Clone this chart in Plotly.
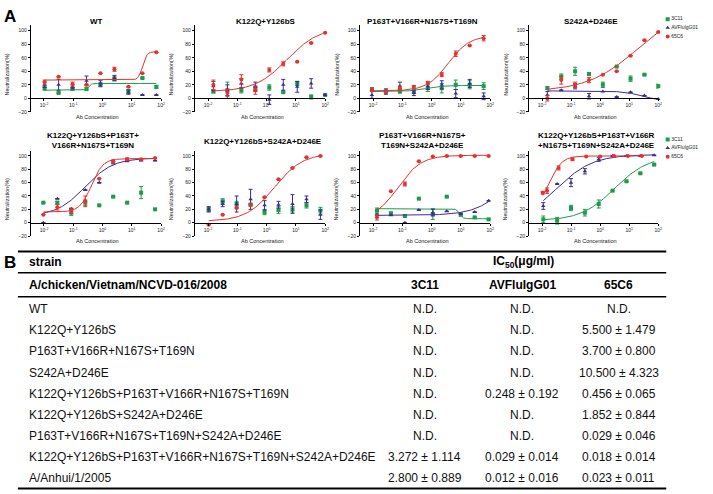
import numpy as np
import plotly.graph_objects as go

W, H = 713, 494
def px(x): return x / W
def py(y): return 1 - y / H

antibodies = ["3C11", "AVFluIgG01", "65C6"]
colors = {"3C11": "#1f9a4b", "AVFluIgG01": "#3a2e8e", "65C6": "#e4332f"}
symbols = {"3C11": "square", "AVFluIgG01": "triangle-up", "65C6": "circle"}

titles = ["WT", "K122Q+Y126bS", "P163T+V166R+N167S+T169N", "S242A+D246E",
          "K122Q+Y126bS+P163T+<br>V166R+N167S+T169N", "K122Q+Y126bS+S242A+D246E",
          "P163T+V166R+N167S+<br>T169N+S242A+D246E",
          "K122Q+Y126bS+P163T+V166R<br>+N167S+T169N+S242A+D246E"]

# concentrations (ug/ml) per panel
conc_p1 = [0.0105, 0.0315, 0.0945, 0.2835, 0.85, 2.55, 7.65, 23.0, 68.9]
conc_p2 = [0.0152, 0.0457, 0.137, 0.412, 1.235, 3.70, 11.1, 33.3, 100.0]
conc_p3 = [0.0091, 0.0273, 0.0819, 0.246, 0.737, 2.21, 6.63, 19.9, 59.7]
conc_p4 = [0.0152, 0.0457, 0.137, 0.412, 1.235, 3.70, 11.1, 33.3, 100.0]
conc_p5 = [0.0095, 0.0285, 0.0855, 0.257, 0.770, 2.31, 6.93, 20.8, 62.3]
conc_p6 = [0.0105, 0.0315, 0.0945, 0.2835, 0.85, 2.55, 7.65, 23.0, 68.9]
conc_p7 = [0.0135, 0.0405, 0.1215, 0.3645, 1.094, 3.28, 9.84, 29.5, 88.6]
conc_p8 = [0.011, 0.033, 0.099, 0.297, 0.891, 2.67, 8.02, 24.1, 72.2]
conc_p8_65c6 = [0.0105, 0.0148, 0.037, 0.111, 0.33, 1.0, 3.0, 9.0, 27.0]

# neutralization (%) and error
p1_3c11 = [15, 8, 14, 14, 20, 29, 10, 30, 17];      p1_3c11_err = [3, 0, 2, 2, 3, 3, 3, 0, 2]
p1_avf = [20, 20, 17, 26, 22, 30, 9, 5, 5];         p1_avf_err = [4, 8, 3, 7, 4, 4, 3, 0, 0]
p1_65c6 = [24, 32, 21, 20, 37, 43, 17, 37, 68];     p1_65c6_err = [3, 0, 3, 0, 0, 3, 0, 0, 0]

p2_3c11 = [10, 12, 12, 15, 16, 9, 22, 2, 5];        p2_3c11_err = [2, 12, 4, 3, 4, 0, 3, 3, 0]
p2_avf = [18, 12, 22, 17, -2, 20, 17, 22, 5];       p2_avf_err = [7, 8, 7, 7, 7, 8, 8, 7, 0]
p2_65c6 = [20, 8, 28, 12, 42, 51, 54, 82, 97];      p2_65c6_err = [7, 5, 7, 6, 3, 3, 0, 0, 0]

p3_3c11 = [13, 10, 10, 10, 15, 15, 20, 20, 18];     p3_3c11_err = [3, 2, 2, 2, 5, 7, 7, 6, 5]
p3_avf = [5, 10, 18, 8, 18, 20, 7, 22, 3];          p3_avf_err = [5, 4, 6, 4, 5, 6, 6, 6, 5]
p3_65c6 = [12, 10, 15, 17, 23, 35, 66, 78, 89];     p3_65c6_err = [2, 2, 3, 2, 2, 3, 4, 0, 4]

p4_3c11 = [15, 32, 40, 36, 20, 47, 29, 35, 18];     p4_3c11_err = [2, 4, 6, 2, 4, 0, 4, 0, 3]
p4_avf = [5, 12, 18, 3, 10, 2, 9, 4, -1];           p4_avf_err = [5, 0, 4, 4, 0, 0, 0, 0, 0]
p4_65c6 = [0, 27, 20, 27, 35, 40, 63, 86, 98];      p4_65c6_err = [4, 6, 4, 4, 0, 0, 0, 0, 0]

p5_3c11 = [30, 30, 15, 30, 26, 39, 30, 45, 20];     p5_3c11_err = [0, 2, 4, 4, 0, 0, 0, 9, 0]
p5_avf = [0, 36, 21, 49, 60, 90, 92, 93, 93];       p5_avf_err = [0, 0, 0, 0, 0, 2, 0, 0, 0]
p5_65c6 = [12, 23, 18, 32, 66, 92, 95, 95, 97];     p5_65c6_err = [0, 4, 4, 8, 0, 2, 2, 0, 0]

p6_3c11 = [20, 32, 28, 27, 16, 19, 20, 26, 18];     p6_3c11_err = [3, 4, 4, 2, 4, 5, 4, 4, 5]
p6_avf = [20, 28, 28, 35, 26, 27, 28, 35, 12];      p6_avf_err = [4, 4, 12, 15, 7, 5, 14, 5, 7]
p6_65c6 = [-3, 12, 22, 27, 38, 65, 82, 98, 100];    p6_65c6_err = [0, 0, 0, 0, 0, 0, 0, 0, 0]

p7_3c11 = [18, 14, 10, 36, 13, 39, 12, 8, 5];       p7_3c11_err = [4, 2, 0, 0, 8, 0, 2, 0, 0]
p7_avf = [12, 11, 0, 19, 15, 17, 13, 16, 33];       p7_avf_err = [0, 0, 0, 0, 5, 0, 0, 0, 0]
p7_65c6 = [8, 47, 58, 92, 99, 100, 100, 100, 100];  p7_65c6_err = [4, 0, 3, 0, 0, 0, 0, 0, 0]

p8_3c11 = [5, 3, 22, 15, 28, 48, 62, 74, 87];       p8_3c11_err = [5, 5, 4, 5, 6, 0, 0, 0, 0]
p8_avf = [25, 58, 60, 77, 95, 100, 100, 100, 101];  p8_avf_err = [5, 0, 6, 4, 3, 0, 0, 0, 0]
p8_65c6 = [45, 48, 82, 95, 99, 99, 100, 100, 100];  p8_65c6_err = [2, 4, 3, 2, 0, 0, 0, 0, 0]

# fitted 4-parameter logistic curves: (value at low conc, value at high conc, logEC50, hill)
fit_p1 = {"3C11": (12, 22, -0.47, 10), "65C6": (27, 69, 1.37, 6)}
fit_p2 = {"65C6": (10, 105, 0.7, 0.8)}
fit_p3 = {"3C11": (10, 19, -0.2, 1.5), "65C6": (11, 93, 0.57, 1.2)}
fit_p4 = {"AVFluIgG01": (11, -5, 1.5, 1.2), "65C6": (10, 137, 1.3, 0.5)}
fit_p5 = {"AVFluIgG01": (10, 97, -0.6, 0.9), "65C6": (16, 96, -0.38, 2.2)}
fit_p6 = {"65C6": (2, 104, 0.27, 0.9)}
fit_p7 = {"3C11": (21, 6, 0.95, 8), "AVFluIgG01": (11, 100, 2.6, 0.8), "65C6": (5, 101, -1.15, 1.1)}
fit_p8 = {"3C11": (3, 100, 0.5, 0.75), "AVFluIgG01": (0, 102, -1.5, 0.7), "65C6": (20, 100, -1.75, 2.0)}

panels = [
    (conc_p1, [(p1_3c11, p1_3c11_err), (p1_avf, p1_avf_err), (p1_65c6, p1_65c6_err)], fit_p1, None),
    (conc_p2, [(p2_3c11, p2_3c11_err), (p2_avf, p2_avf_err), (p2_65c6, p2_65c6_err)], fit_p2, None),
    (conc_p3, [(p3_3c11, p3_3c11_err), (p3_avf, p3_avf_err), (p3_65c6, p3_65c6_err)], fit_p3, None),
    (conc_p4, [(p4_3c11, p4_3c11_err), (p4_avf, p4_avf_err), (p4_65c6, p4_65c6_err)], fit_p4, None),
    (conc_p5, [(p5_3c11, p5_3c11_err), (p5_avf, p5_avf_err), (p5_65c6, p5_65c6_err)], fit_p5, None),
    (conc_p6, [(p6_3c11, p6_3c11_err), (p6_avf, p6_avf_err), (p6_65c6, p6_65c6_err)], fit_p6, None),
    (conc_p7, [(p7_3c11, p7_3c11_err), (p7_avf, p7_avf_err), (p7_65c6, p7_65c6_err)], fit_p7, None),
    (conc_p8, [(p8_3c11, p8_3c11_err), (p8_avf, p8_avf_err), (p8_65c6, p8_65c6_err)], fit_p8, conc_p8_65c6),
]

x_tickvals = [0.01, 0.1, 1, 10, 100]
x_ticktext = ["10<sup>-2</sup>", "10<sup>-1</sup>", "10<sup>0</sup>", "10<sup>1</sup>", "10<sup>2</sup>"]
y_ticks = [-20, 0, 20, 40, 60, 80, 100]
Y_RANGE = [-20, 108]
X_RANGE = [-2.45, 2.0]

# table
strains = ["WT", "K122Q+Y126bS", "P163T+V166R+N167S+T169N", "S242A+D246E",
           "K122Q+Y126bS+P163T+V166R+N167S+T169N", "K122Q+Y126bS+S242A+D246E",
           "P163T+V166R+N167S+T169N+S242A+D246E",
           "K122Q+Y126bS+P163T+V166R+N167S+T169N+S242A+D246E", "A/Anhui/1/2005"]
ic50_3c11 = ["N.D.", "N.D.", "N.D.", "N.D.", "N.D.", "N.D.", "N.D.", "3.272 ± 1.114", "2.800 ± 0.889"]
ic50_avf = ["N.D.", "N.D.", "N.D.", "N.D.", "0.248 ± 0.192", "N.D.", "N.D.", "0.029 ± 0.014", "0.012 ± 0.016"]
ic50_65c6 = ["N.D.", "5.500 ± 1.479", "3.700 ± 0.800", "10.500 ± 4.323", "0.456 ± 0.065", "1.852 ± 0.844",
             "0.029 ± 0.046", "0.018 ± 0.014", "0.023 ± 0.011"]

# ---------------- layout geometry (pixels) ----------------
col_x = [(31, 162), (196, 327), (362, 493), (532, 662)]
row_y = [(25.5, 112.5), (151.5, 237.5)]

fig = go.Figure()
layout = dict(width=W, height=H, margin=dict(l=0, r=0, t=0, b=0),
              paper_bgcolor="white", plot_bgcolor="white", showlegend=False,
              font=dict(family="Liberation Sans, Arial, sans-serif", color="black"))
annotations = []
shapes = []

def logistic(lx, b, t, c, h):
    return b + (t - b) / (1 + 10 ** (h * (c - lx)))

for i, (conc, series, fits, alt_conc) in enumerate(panels):
    r, cidx = divmod(i, 4)
    x0p, x1p = col_x[cidx]
    ytop, ybot = row_y[r]
    ax = "" if i == 0 else str(i + 1)
    xa, ya = "x" + ax, "y" + ax
    y0pix = ybot - (0 - Y_RANGE[0]) / (Y_RANGE[1] - Y_RANGE[0]) * (ybot - ytop)
    layout["xaxis" + ax] = dict(type="log", range=X_RANGE, domain=[px(x0p), px(x1p)],
                                anchor="free", position=py(y0pix),
                                showline=True, linecolor="black", linewidth=1,
                                ticks="outside", ticklen=2, tickwidth=1, tickcolor="black",
                                tickvals=x_tickvals, ticktext=x_ticktext, showgrid=False,
                                zeroline=False, tickfont=dict(size=5, color="#222"))
    layout["yaxis" + ax] = dict(range=Y_RANGE, domain=[py(ybot), py(ytop)], anchor=xa,
                                showline=True, linecolor="black", linewidth=1,
                                ticks="outside", ticklen=2, tickwidth=1, tickcolor="black",
                                tickvals=y_ticks, showgrid=False, zeroline=False,
                                tickfont=dict(size=5, color="#222"))
    for ab, (vals, errs) in zip(antibodies, series):
        xs = alt_conc if (ab == "65C6" and alt_conc is not None) else conc
        fig.add_trace(go.Scatter(x=xs, y=vals, mode="markers", xaxis=xa, yaxis=ya,
                                 marker=dict(symbol=symbols[ab], size=4, color=colors[ab]),
                                 error_y=dict(type="data", array=errs, thickness=1, width=2,
                                              color=colors[ab]),
                                 cliponaxis=False, hoverinfo="skip"))
        if ab in fits:
            b, t, c, h = fits[ab]
            lx = np.linspace(np.log10(min(xs)), np.log10(max(xs)), 200)
            fig.add_trace(go.Scatter(x=10 ** lx, y=logistic(lx, b, t, c, h), mode="lines",
                                     xaxis=xa, yaxis=ya, line=dict(color=colors[ab], width=1),
                                     hoverinfo="skip", cliponaxis=False))
    annotations.append(dict(text="Ab Concentration", x=px((x0p + x1p) / 2 + 2), y=py(ybot + 5),
                            xref="paper", yref="paper", showarrow=False,
                            font=dict(size=5.5, color="#222"), xanchor="center", yanchor="middle"))
    annotations.append(dict(text="Neutralization(%)", x=px(x0p - 24), y=py((ytop + ybot) / 2 + 6),
                            xref="paper", yref="paper", showarrow=False, textangle=-90,
                            font=dict(size=5.5, color="#222"), xanchor="center", yanchor="middle"))

# panel titles
title_pos = [(97, 22), (267, 22), (425, 22), (594, 22), (94, 141.5), (264, 142), (425, 141.5), (600, 141.5)]
for t, (tx, ty) in zip(titles, title_pos):
    annotations.append(dict(text="<b>" + t + "</b>", x=px(tx), y=py(ty), xref="paper", yref="paper",
                            showarrow=False, font=dict(size=8, color="black"),
                            xanchor="center", yanchor="middle"))

# legends (two small legend axes)
for k, (ltop, lbot) in enumerate([(15, 41), (136, 162)]):
    ax = str(9 + k)
    layout["xaxis" + ax] = dict(domain=[px(670), px(710)], range=[-0.3, 8], visible=False,
                                anchor="y" + ax, fixedrange=True)
    layout["yaxis" + ax] = dict(domain=[py(lbot), py(ltop)], range=[2.5, -0.5], visible=False,
                                anchor="x" + ax, fixedrange=True)
    fig.add_trace(go.Scatter(x=[0, 0, 0], y=[0, 1, 2], mode="markers+text", text=antibodies,
                             textposition="middle right", textfont=dict(size=5, color="#222"),
                             marker=dict(symbol=[symbols[a] for a in antibodies], size=4,
                                         color=[colors[a] for a in antibodies]),
                             xaxis="x" + ax, yaxis="y" + ax, cliponaxis=False, hoverinfo="skip"))

# panel letters
annotations.append(dict(text="<b>A</b>", x=px(2), y=py(17), xref="paper", yref="paper", showarrow=False,
                        font=dict(size=17), xanchor="left", yanchor="middle"))
annotations.append(dict(text="<b>B</b>", x=px(2), y=py(264), xref="paper", yref="paper", showarrow=False,
                        font=dict(size=17), xanchor="left", yanchor="middle"))

# table
TF = 12
tx_left = 27
cols = [427, 525, 622]
annotations.append(dict(text="<b>strain</b>", x=px(tx_left), y=py(264), xref="paper", yref="paper",
                        showarrow=False, font=dict(size=TF), xanchor="left", yanchor="middle"))
annotations.append(dict(text="<b>IC<sub>50</sub>(μg/ml)</b>", x=px(526), y=py(264), xref="paper",
                        yref="paper", showarrow=False, font=dict(size=TF), xanchor="center",
                        yanchor="middle"))
annotations.append(dict(text="<b>A/chicken/Vietnam/NCVD-016/2008</b>", x=px(tx_left), y=py(287),
                        xref="paper", yref="paper", showarrow=False, font=dict(size=TF),
                        xanchor="left", yanchor="middle"))
for cx, name in zip(cols, antibodies):
    annotations.append(dict(text="<b>" + name + "</b>", x=px(cx), y=py(287), xref="paper", yref="paper",
                            showarrow=False, font=dict(size=TF), xanchor="center", yanchor="middle"))
row0, dy = 311, 21.3
for j, s in enumerate(strains):
    yy = row0 + j * dy
    annotations.append(dict(text=s, x=px(tx_left), y=py(yy), xref="paper", yref="paper",
                            showarrow=False, font=dict(size=TF, color="#111"), xanchor="left",
                            yanchor="middle"))
    for cx, v in zip(cols, [ic50_3c11[j], ic50_avf[j], ic50_65c6[j]]):
        annotations.append(dict(text=v, x=px(cx), y=py(yy), xref="paper", yref="paper",
                                showarrow=False, font=dict(size=TF, color="#111"),
                                xanchor="center", yanchor="middle"))

for ly, lw in [(253, 2), (274.5, 1.5), (298.5, 1.5), (491.5, 2)]:
    shapes.append(dict(type="line", xref="paper", yref="paper", x0=px(18), x1=px(670),
                       y0=py(ly), y1=py(ly), line=dict(color="black", width=lw)))

layout["annotations"] = annotations
layout["shapes"] = shapes
fig.update_layout(**layout)
fig.write_html("out.html", config={"displayModeBar": False},
               post_script="document.body.style.margin='0';document.body.style.overflow='hidden';")
